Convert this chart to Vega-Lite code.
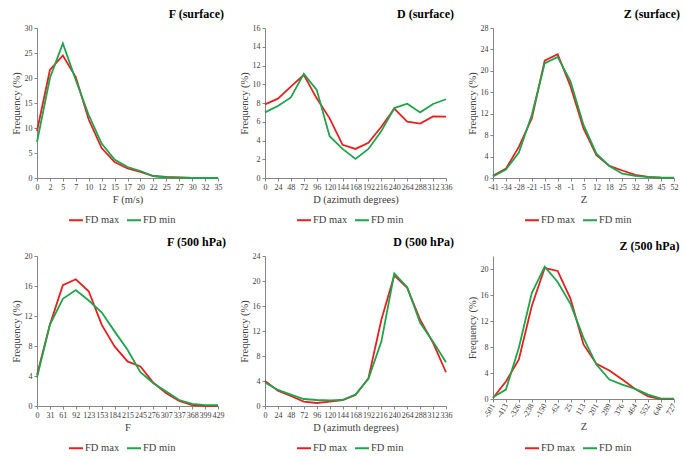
{
  "$schema": "https://vega.github.io/schema/vega-lite/v6.json",
  "autosize": "none",
  "padding": {"left": 37, "top": 28, "right": 648, "bottom": 432},
  "background": "white",
  "bounds": "flush",
  "columns": 3,
  "spacing": {"row": 78, "column": 47},
  "datasets": {
    "fs": [
      {"x": "0", "FD max": 9.4, "FD min": 7.2},
      {"x": "2", "FD max": 21.6, "FD min": 20.0},
      {"x": "5", "FD max": 24.5, "FD min": 26.9},
      {"x": "7", "FD max": 20.2, "FD min": 19.6},
      {"x": "10", "FD max": 11.7, "FD min": 12.6},
      {"x": "12", "FD max": 6.0, "FD min": 6.9},
      {"x": "15", "FD max": 3.2, "FD min": 3.7},
      {"x": "17", "FD max": 1.9, "FD min": 2.2},
      {"x": "20", "FD max": 1.2, "FD min": 1.4},
      {"x": "22", "FD max": 0.4, "FD min": 0.4},
      {"x": "25", "FD max": 0.2, "FD min": 0.1},
      {"x": "27", "FD max": 0.1, "FD min": 0.05},
      {"x": "30", "FD max": 0, "FD min": 0},
      {"x": "32", "FD max": 0, "FD min": 0},
      {"x": "35", "FD max": 0, "FD min": 0}
    ],
    "ds": [
      {"x": "0", "FD max": 7.86, "FD min": 7.0},
      {"x": "24", "FD max": 8.46, "FD min": 7.68},
      {"x": "48", "FD max": 9.75, "FD min": 8.6},
      {"x": "72", "FD max": 11.0, "FD min": 11.1},
      {"x": "96", "FD max": 8.5, "FD min": 9.4},
      {"x": "120", "FD max": 6.36, "FD min": 4.46},
      {"x": "144", "FD max": 3.54, "FD min": 3.1},
      {"x": "168", "FD max": 3.1, "FD min": 2.04},
      {"x": "192", "FD max": 3.75, "FD min": 3.1},
      {"x": "216", "FD max": 5.46, "FD min": 5.0},
      {"x": "240", "FD max": 7.4, "FD min": 7.46},
      {"x": "264", "FD max": 6.0, "FD min": 7.93},
      {"x": "288", "FD max": 5.8, "FD min": 7.0},
      {"x": "312", "FD max": 6.57, "FD min": 7.9},
      {"x": "336", "FD max": 6.54, "FD min": 8.4}
    ],
    "zs": [
      {"x": "-41", "FD max": 0.4, "FD min": 0.3},
      {"x": "-34", "FD max": 1.75, "FD min": 1.6},
      {"x": "-28", "FD max": 5.8, "FD min": 4.75},
      {"x": "-21", "FD max": 11.1, "FD min": 11.75},
      {"x": "-15", "FD max": 21.9, "FD min": 21.4},
      {"x": "-8", "FD max": 23.1, "FD min": 22.6},
      {"x": "-1", "FD max": 17.1, "FD min": 18.0},
      {"x": "5", "FD max": 9.25, "FD min": 9.9},
      {"x": "12", "FD max": 4.25, "FD min": 4.55},
      {"x": "18", "FD max": 2.25, "FD min": 2.25},
      {"x": "25", "FD max": 1.4, "FD min": 0.8},
      {"x": "32", "FD max": 0.6, "FD min": 0.4},
      {"x": "38", "FD max": 0.2, "FD min": 0.15},
      {"x": "45", "FD max": 0.05, "FD min": 0.05},
      {"x": "52", "FD max": 0, "FD min": 0.05}
    ],
    "f5": [
      {"x": "0", "FD max": 4.15, "FD min": 3.8},
      {"x": "31", "FD max": 10.85, "FD min": 10.85},
      {"x": "61", "FD max": 16.1, "FD min": 14.3},
      {"x": "92", "FD max": 16.9, "FD min": 15.45},
      {"x": "123", "FD max": 15.3, "FD min": 14.06},
      {"x": "153", "FD max": 10.85, "FD min": 12.5},
      {"x": "184", "FD max": 7.95, "FD min": 9.95},
      {"x": "215", "FD max": 5.94, "FD min": 7.5},
      {"x": "245", "FD max": 5.27, "FD min": 4.5},
      {"x": "276", "FD max": 3.1, "FD min": 3.03},
      {"x": "307", "FD max": 1.7, "FD min": 1.92},
      {"x": "337", "FD max": 0.67, "FD min": 0.8},
      {"x": "368", "FD max": 0.13, "FD min": 0.27},
      {"x": "399", "FD max": 0, "FD min": 0.13},
      {"x": "429", "FD max": 0, "FD min": 0.1}
    ],
    "d5": [
      {"x": "0", "FD max": 4.0, "FD min": 3.75},
      {"x": "24", "FD max": 2.46, "FD min": 2.57},
      {"x": "48", "FD max": 1.6, "FD min": 1.82},
      {"x": "72", "FD max": 0.7, "FD min": 1.12},
      {"x": "96", "FD max": 0.48, "FD min": 0.96},
      {"x": "120", "FD max": 0.7, "FD min": 0.9},
      {"x": "144", "FD max": 0.96, "FD min": 0.96},
      {"x": "168", "FD max": 1.77, "FD min": 1.82},
      {"x": "192", "FD max": 4.45, "FD min": 4.34},
      {"x": "216", "FD max": 13.8, "FD min": 10.3},
      {"x": "240", "FD max": 20.9, "FD min": 21.2},
      {"x": "264", "FD max": 18.9, "FD min": 19.0},
      {"x": "288", "FD max": 13.8, "FD min": 13.3},
      {"x": "312", "FD max": 10.1, "FD min": 10.3},
      {"x": "336", "FD max": 5.4, "FD min": 7.0}
    ],
    "z5": [
      {"x": "-501", "FD max": 0.15, "FD min": 0.26},
      {"x": "-413", "FD max": 2.7, "FD min": 1.45},
      {"x": "-326", "FD max": 6.1, "FD min": 7.9},
      {"x": "-238", "FD max": 14.3, "FD min": 16.3},
      {"x": "-150", "FD max": 20.15, "FD min": 20.36},
      {"x": "-62", "FD max": 19.7, "FD min": 18.0},
      {"x": "25", "FD max": 15.4, "FD min": 14.6},
      {"x": "113", "FD max": 8.4, "FD min": 9.4},
      {"x": "201", "FD max": 5.4, "FD min": 5.3},
      {"x": "289", "FD max": 4.4, "FD min": 3.0},
      {"x": "376", "FD max": 3.0, "FD min": 2.2},
      {"x": "464", "FD max": 1.55, "FD min": 1.55},
      {"x": "552", "FD max": 0.4, "FD min": 0.67},
      {"x": "640", "FD max": 0, "FD min": 0.05},
      {"x": "727", "FD max": 0, "FD min": 0.05}
    ]
  },
  "concat": [
    {
      "width": 181, "height": 150,
      "data": {"name": "fs"},
      "transform": [{"fold": ["FD max", "FD min"], "as": ["series", "value"]}],
      "title": {"text": "F (surface)"},
      "mark": {"type": "line", "strokeWidth": 1.8},
      "encoding": {
        "x": {"field": "x", "type": "ordinal", "sort": null, "scale": {"type": "point", "padding": 0}, "axis": {"title": "F (m/s)", "labelAngle": 0}},
        "y": {"field": "value", "type": "quantitative", "scale": {"domain": [0, 30]}, "axis": {"title": "Frequency (%)", "values": [0, 5, 10, 15, 20, 25, 30]}},
        "color": {"field": "series", "type": "nominal", "scale": {"domain": ["FD max", "FD min"], "range": ["#e5201f", "#1fa44b"]}}
      }
    },
    {
      "width": 181, "height": 150,
      "data": {"name": "ds"},
      "transform": [{"fold": ["FD max", "FD min"], "as": ["series", "value"]}],
      "title": {"text": "D (surface)"},
      "mark": {"type": "line", "strokeWidth": 1.8},
      "encoding": {
        "x": {"field": "x", "type": "ordinal", "sort": null, "scale": {"type": "point", "padding": 0}, "axis": {"title": "D (azimuth degrees)", "labelAngle": 0}},
        "y": {"field": "value", "type": "quantitative", "scale": {"domain": [0, 16]}, "axis": {"title": "Frequency (%)", "values": [0, 2, 4, 6, 8, 10, 12, 14, 16]}},
        "color": {"field": "series", "type": "nominal", "scale": {"domain": ["FD max", "FD min"], "range": ["#e5201f", "#1fa44b"]}}
      }
    },
    {
      "width": 181, "height": 150,
      "data": {"name": "zs"},
      "transform": [{"fold": ["FD max", "FD min"], "as": ["series", "value"]}],
      "title": {"text": "Z (surface)"},
      "mark": {"type": "line", "strokeWidth": 1.8},
      "encoding": {
        "x": {"field": "x", "type": "ordinal", "sort": null, "scale": {"type": "point", "padding": 0}, "axis": {"title": "Z", "labelAngle": 0}},
        "y": {"field": "value", "type": "quantitative", "scale": {"domain": [0, 28]}, "axis": {"title": "Frequency (%)", "values": [0, 4, 8, 12, 16, 20, 24, 28]}},
        "color": {"field": "series", "type": "nominal", "scale": {"domain": ["FD max", "FD min"], "range": ["#e5201f", "#1fa44b"]}}
      }
    },
    {
      "width": 181, "height": 150,
      "data": {"name": "f5"},
      "transform": [{"fold": ["FD max", "FD min"], "as": ["series", "value"]}],
      "title": {"text": "F (500 hPa)"},
      "mark": {"type": "line", "strokeWidth": 1.8},
      "encoding": {
        "x": {"field": "x", "type": "ordinal", "sort": null, "scale": {"type": "point", "padding": 0}, "axis": {"title": "F", "labelAngle": 0}},
        "y": {"field": "value", "type": "quantitative", "scale": {"domain": [0, 20]}, "axis": {"title": "Frequency (%)", "values": [0, 4, 8, 12, 16, 20]}},
        "color": {"field": "series", "type": "nominal", "scale": {"domain": ["FD max", "FD min"], "range": ["#e5201f", "#1fa44b"]}}
      }
    },
    {
      "width": 181, "height": 150,
      "data": {"name": "d5"},
      "transform": [{"fold": ["FD max", "FD min"], "as": ["series", "value"]}],
      "title": {"text": "D (500 hPa)"},
      "mark": {"type": "line", "strokeWidth": 1.8},
      "encoding": {
        "x": {"field": "x", "type": "ordinal", "sort": null, "scale": {"type": "point", "padding": 0}, "axis": {"title": "D (azimuth degrees)", "labelAngle": 0}},
        "y": {"field": "value", "type": "quantitative", "scale": {"domain": [0, 24]}, "axis": {"title": "Frequency (%)", "values": [0, 4, 8, 12, 16, 20, 24]}},
        "color": {"field": "series", "type": "nominal", "scale": {"domain": ["FD max", "FD min"], "range": ["#e5201f", "#1fa44b"]}}
      }
    },
    {
      "width": 181, "height": 143,
      "data": {"name": "z5"},
      "transform": [{"fold": ["FD max", "FD min"], "as": ["series", "value"]}],
      "title": {"text": "Z (500 hPa)"},
      "mark": {"type": "line", "strokeWidth": 1.8},
      "encoding": {
        "x": {"field": "x", "type": "ordinal", "sort": null, "scale": {"type": "point", "padding": 0}, "axis": {"title": "Z", "labelAngle": -60}},
        "y": {"field": "value", "type": "quantitative", "scale": {"domain": [0, 22]}, "axis": {"title": "Frequency (%)", "values": [0, 4, 8, 12, 16, 20]}},
        "color": {"field": "series", "type": "nominal", "scale": {"domain": ["FD max", "FD min"], "range": ["#e5201f", "#1fa44b"]}}
      }
    }
  ],
  "resolve": {"scale": {"color": "independent"}, "legend": {"color": "independent"}},
  "config": {
    "view": {"stroke": null},
    "font": "Liberation Serif",
    "title": {"anchor": "end", "font": "Liberation Serif", "fontSize": 12, "fontWeight": "bold", "color": "#000000", "offset": 3, "dx": 2},
    "axis": {
      "grid": false,
      "domainColor": "#868686",
      "tickColor": "#868686",
      "tickSize": 3,
      "labelFont": "Liberation Serif",
      "labelFontSize": 8,
      "labelColor": "#404040",
      "labelPadding": 2,
      "titleFont": "Liberation Serif",
      "titleFontSize": 10.5,
      "titleFontWeight": "normal",
      "titleColor": "#404040",
      "titlePadding": 3
    },
    "axisX": {"labelOverlap": false},
    "axisY": {"titlePadding": 3},
    "legend": {
      "orient": "none",
      "legendX": 31,
      "legendY": 184,
      "direction": "horizontal",
      "title": null,
      "symbolType": "stroke",
      "symbolStrokeWidth": 2,
      "symbolSize": 196,
      "labelFont": "Liberation Serif",
      "labelFontSize": 10.5,
      "labelColor": "#404040",
      "columnPadding": 3,
      "symbolOffset": 0,
      "labelOffset": 1
    }
  }
}
